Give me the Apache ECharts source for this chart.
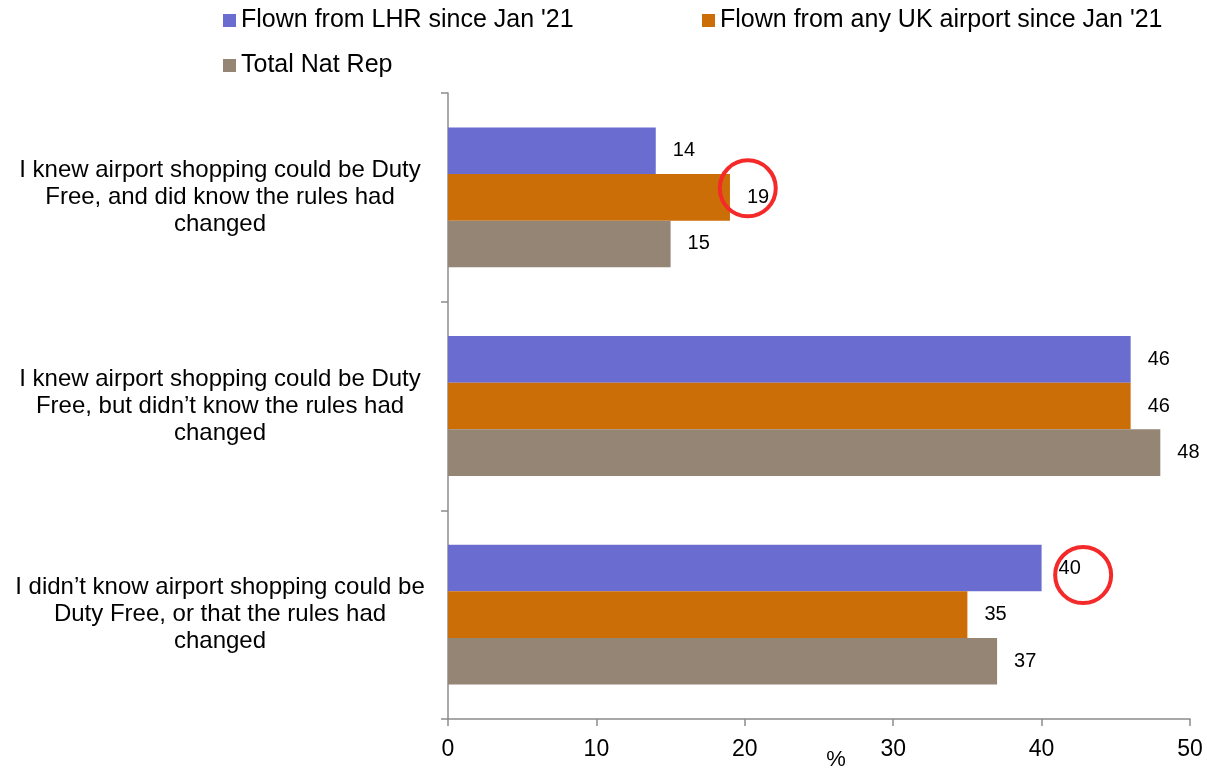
<!DOCTYPE html>
<html>
<head>
<meta charset="utf-8">
<script src="https://cdn.jsdelivr.net/npm/echarts@6/dist/echarts.min.js"></script>
<style>html,body{margin:0;padding:0;background:#fff}#c{width:1207px;height:771px}</style>
</head>
<body>
<div id="c"></div>
<script>
const categories = [
  "I knew airport shopping could be Duty\nFree, and did know the rules had\nchanged",
  "I knew airport shopping could be Duty\nFree, but didn\u2019t know the rules had\nchanged",
  "I didn\u2019t know airport shopping could be\nDuty Free, or that the rules had\nchanged"
];
const seriesNames = ["Flown from LHR since Jan '21", "Flown from any UK airport since Jan '21", "Total Nat Rep"];
const lhr = [14, 46, 40];
const ukAny = [19, 46, 35];
const natRep = [15, 48, 37];
const xTicks = [0, 10, 20, 30, 40, 50];
const colors = ["#6B6CCF", "#CC6E07", "#958574"];
const FONT = "Liberation Sans, Arial, sans-serif";

const chart = echarts.init(document.getElementById('c'));
const labelCfg = {show: true, position: 'right', distance: 17, color: '#000', fontSize: 20, fontFamily: FONT};
const circleStyle = {color: 'rgba(0,0,0,0)', borderColor: '#F42A2A', borderWidth: 4};
function legendItem(name, left, top) {
  return {data: [name], left: left, top: top, itemWidth: 13, itemHeight: 13, itemGap: 4,
    icon: 'rect', textStyle: {fontSize: 25, fontFamily: FONT, color: '#000'}, selectedMode: false};
}
chart.setOption({
  animation: false,
  textStyle: {fontFamily: FONT},
  legend: [
    legendItem(seriesNames[0], 218, 3),
    legendItem(seriesNames[1], 697, 3),
    legendItem(seriesNames[2], 218, 48)
  ],
  grid: {left: 448, right: 17, top: 93, bottom: 52, containLabel: false, outerBoundsMode: 'none'},
  xAxis: {
    type: 'value', min: xTicks[0], max: xTicks[xTicks.length - 1], interval: 10,
    name: '%', nameLocation: 'middle', nameGap: 30, nameMoveOverlap: false,
    nameTextStyle: {fontSize: 22, color: '#000', fontFamily: FONT, padding: [0, 0, 0, 34]},
    splitLine: {show: false},
    axisLine: {show: true, lineStyle: {color: '#8c8c8c', width: 1.5}},
    axisTick: {show: true, length: 7, lineStyle: {color: '#8c8c8c', width: 1.5}},
    axisLabel: {fontSize: 23, color: '#000', fontFamily: FONT, margin: 19}
  },
  yAxis: {
    type: 'category', data: categories, inverse: true,
    axisLine: {show: true, lineStyle: {color: '#8c8c8c', width: 1.5}},
    axisTick: {show: true, length: 7, lineStyle: {color: '#8c8c8c', width: 1.5}},
    axisLabel: {fontSize: 24, color: '#000', fontFamily: FONT, align: 'center', margin: 228, lineHeight: 27}
  },
  series: [
    {name: seriesNames[0], type: 'bar', data: lhr, barGap: '0%', barCategoryGap: '33%',
     itemStyle: {color: colors[0]}, label: labelCfg,
     markPoint: {symbol: 'circle', symbolSize: 56, symbolOffset: [0, 7], silent: true,
       itemStyle: circleStyle, label: {show: false},
       data: [{coord: [42.8, 2]}]}},
    {name: seriesNames[1], type: 'bar', data: ukAny, barGap: '0%', barCategoryGap: '33%',
     itemStyle: {color: colors[1]}, label: labelCfg,
     markPoint: {symbol: 'circle', symbolSize: 56, symbolOffset: [0, -9], silent: true,
       itemStyle: circleStyle, label: {show: false},
       data: [{coord: [20.2, 0]}]}},
    {name: seriesNames[2], type: 'bar', data: natRep, barGap: '0%', barCategoryGap: '33%',
     itemStyle: {color: colors[2]}, label: labelCfg}
  ]
});
</script>
</body>
</html>
